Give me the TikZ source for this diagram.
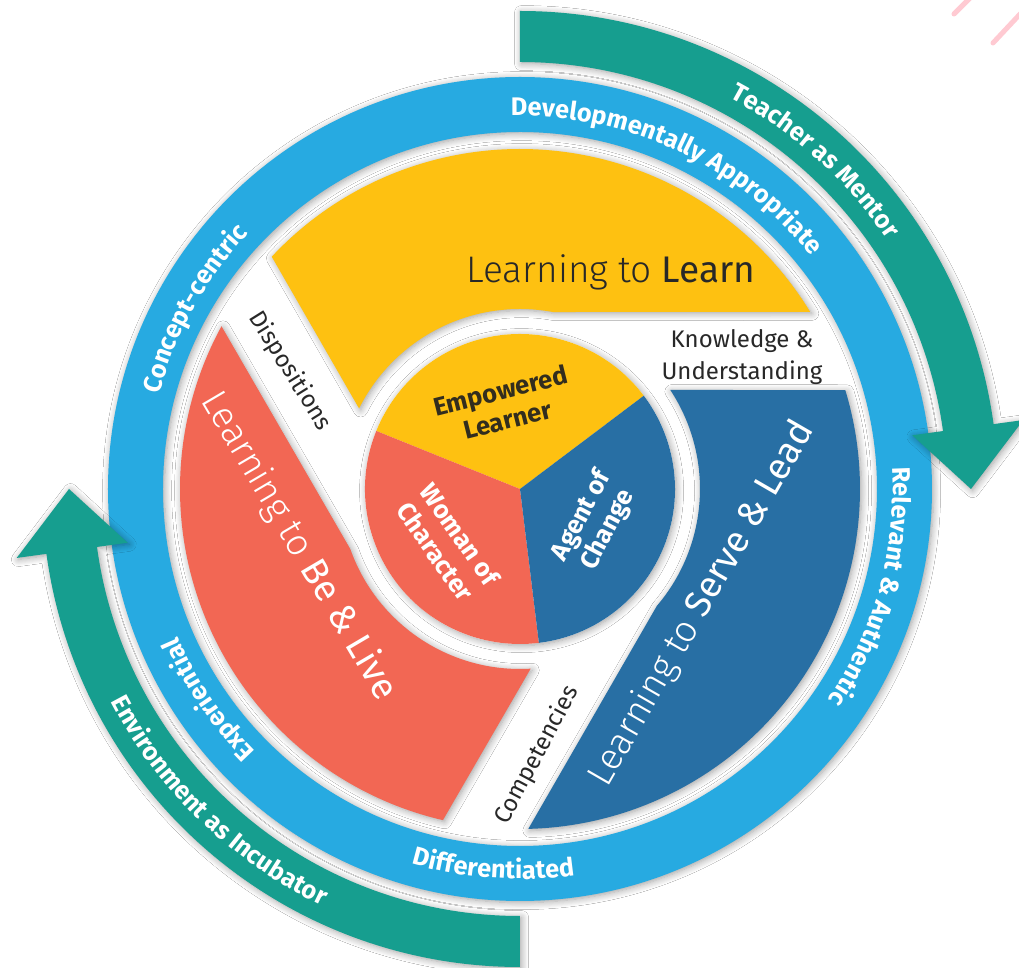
\documentclass[tikz,border=0pt]{standalone}
\usepackage{fontspec}
\setmainfont{Fira Sans}
\newfontfamily\lightfont{Fira Sans Light}
\usetikzlibrary{decorations.text,shadows.blur}
\definecolor{ringblue}{RGB}{39,170,225}
\definecolor{armteal}{RGB}{22,158,143}
\definecolor{armyellow}{RGB}{254,193,17}
\definecolor{armred}{RGB}{242,103,84}
\definecolor{armblue}{RGB}{40,111,164}
\definecolor{darktext}{RGB}{40,40,40}
\definecolor{coretext}{RGB}{50,45,30}
\definecolor{pinkline}{RGB}{255,202,210}
\newcommand\ringfont{\fontsize{12.7}{15}\selectfont\bfseries\color{white}}
\begin{document}
\begin{tikzpicture}[x=0.5pt,y=0.5pt,
  shadowed/.style={blur shadow={shadow xshift=0.8pt,shadow yshift=-0.8pt,shadow blur radius=3.5pt,shadow blur steps=8,shadow opacity=38}},
  ringtext/.style={decorate,decoration={text along path,text align=center}},
  armlabel/.style={font=\fontsize{18.5}{22}\selectfont, inner sep=0pt},
  corelabel/.style={font=\fontsize{12.8}{15}\selectfont\bfseries, align=center, inner sep=0pt},
  gaplabel/.style={font=\fontsize{12}{16}\selectfont, text=darktext, align=center, inner sep=0pt}]
\useasboundingbox (-520,-479) rectangle (499,489);
\fill[white] (-520,-479) rectangle (499,489);
% pink strokes in the corner
\begin{scope}
\clip (-520,-479) rectangle (499,489);
\draw[pinkline, line width=2.5pt, line cap=round] (434,475) -- (452,493);
\draw[pinkline, line width=2.5pt, line cap=round] (473,446) -- (502,477);
\end{scope}
% blue ring
\path[fill=ringblue, shadowed] (90:412) arc[start angle=90,end angle=-270,radius=412] -- (-270:357) arc[start angle=-270,end angle=90,radius=357] -- cycle;
\path[ringtext, decoration={text={|\ringfont|Developmentally Appropriate}}] (110:373) arc[start angle=110,end angle=20,radius=373];
\path[ringtext, decoration={text={|\ringfont|Relevant {\&} Authentic}}] (29.5:373) arc[start angle=29.5,end angle=-60.5,radius=373];
\path[ringtext, decoration={text={|\ringfont|Experiential}}] (-101:373) arc[start angle=-101,end angle=-191,radius=373];
\path[ringtext, decoration={text={|\ringfont|Concept-centric}}] (196:373) arc[start angle=196,end angle=106,radius=373];
\path[ringtext, decoration={text={|\ringfont|Differentiated}}] (-139:390) arc[start angle=-139,end angle=-49,radius=390];
% teal arrows (drawn over the ring)
\path[fill=armteal, shadowed] (90:427) arc[start angle=90,end angle=7.8,radius=427] -- (7.8:396) -- (0:451) -- (7.8:508) -- (7.8:478) arc[start angle=7.8,end angle=90,radius=478] -- cycle;
\begin{scope}[rotate=180]
\path[fill=armteal, shadowed] (90:427) arc[start angle=90,end angle=7.8,radius=427] -- (7.8:396) -- (0:451) -- (7.8:508) -- (7.8:478) arc[start angle=7.8,end angle=90,radius=478] -- cycle;
\end{scope}
\path[ringtext, decoration={text={|\ringfont|Teacher as Mentor}}] (93:444) arc[start angle=93,end angle=3,radius=444];
\path[ringtext, decoration={text={|\ringfont|Environment as Incubator}}] (-179:461) arc[start angle=-179,end angle=-89,radius=461];
% arms
\path[fill=armyellow, shadowed] (136.9:340) arc[start angle=136.9,end angle=31.4,radius=340] -- (79.5:180) arc[start angle=79.5,end angle=153.4,radius=180] -- cycle;
\begin{scope}[rotate=-120]
\path[fill=armblue, shadowed] (136.9:340) arc[start angle=136.9,end angle=31.4,radius=340] -- (79.5:180) arc[start angle=79.5,end angle=153.4,radius=180] -- cycle;
\end{scope}
\begin{scope}[rotate=120]
\path[fill=armred, shadowed] (136.9:340) arc[start angle=136.9,end angle=31.4,radius=340] -- (79.5:180) arc[start angle=79.5,end angle=153.4,radius=180] -- cycle;
\end{scope}
% centre pie
\path[fill=white, shadowed] (0,0) circle[radius=155];
\fill[armyellow] (0,0) -- (37:155) arc[start angle=37,end angle=158,radius=155] -- cycle;
\fill[armred] (0,0) -- (158:155) arc[start angle=158,end angle=277,radius=155] -- cycle;
\fill[armblue] (0,0) -- (277:155) arc[start angle=277,end angle=397,radius=155] -- cycle;
% labels
\node[armlabel, text=darktext, anchor=base] (learn) at (91,206) {{\lightfont Learning to} Learn};
\node[armlabel, text=white, rotate=-59.5] (belive) at (-221,-57) {{\lightfont Learning to} Be \& Live};
\node[armlabel, text=white, rotate=60] (serve) at (182,-115) {{\lightfont Learning to} Serve \& Lead};
\node[corelabel, text=coretext, rotate=14] (empowered) at (-16,84) {Empowered\\Learner};
\node[corelabel, text=white, rotate=-55] (woman) at (-72,-54) {Woman of\\Character};
\node[corelabel, text=white, rotate=62] (agent) at (75,-34) {Agent of\\Change};
\node[gaplabel] (knowledge) at (222,132) {Knowledge \&\\Understanding};
\node[gaplabel, rotate=-58] (dispositions) at (-230,118) {Dispositions};
\node[gaplabel, rotate=62] (competencies) at (17,-266) {Competencies};
\end{tikzpicture}
\end{document}
